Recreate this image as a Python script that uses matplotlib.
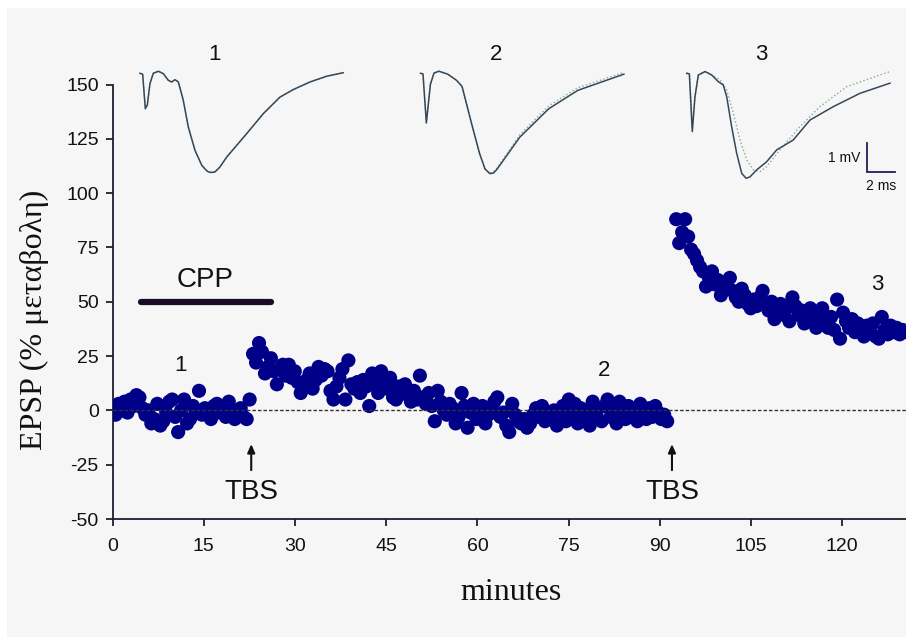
import numpy as np
import matplotlib
matplotlib.use("Agg")
import matplotlib.pyplot as plt
from matplotlib.patches import Rectangle

plt.rcParams['font.family'] = ['Liberation Sans', 'DejaVu Sans']
plt.rcParams['axes.unicode_minus'] = False

# ---------------- data ----------------
step_min = 0.49
seg1_start = 0.0
seg1_vals = [1, -2, 3, 0, 4, -1, 5, 2, 7, 6, 1, -2, 0, -6, -4, 3, -7, -5, -1, 4,
             5, -3, -10, 0, 5, -6, -4, 2, 0, 9, -2, 1, 0, -4, 2, 3, -1, 1, -3, 4,
             0, -4, -2, 1, -3, -4, 5]
seg2_start = 23.1
seg2_vals = [26, 22, 31, 27, 17, 20, 24, 18, 12, 19, 21, 16, 21, 15, 18, 13, 8, 11, 14, 17,
             10, 14, 20, 16, 19, 18, 9, 5, 11, 15, 19, 5, 23, 12, 10, 13, 8, 14, 11, 2,
             17, 12, 8, 18, 14, 10, 15, 6, 5, 11, 9, 12, 7, 4, 9, 5, 16, 6, 3, 8,
             2, -5, 9, 4, 0, -2, 3, 1, -6, -3, 8, 2, -8, -1, 3, -4, 0, 2, -6, -2,
             1, 4, 6, -3, -1, -7, -10, 3, -2, -5, -6, -4, -8, -6, -2, 1, -3, 2, -5, -1,
             -4, 0, -7, -3, 2, -5, 5, -2, 3, -6, 1, -4, 0, -7, 4, -2, 1, -5, 2, 5,
             -3, 0, -6, 4, -1, -4, 2, -3, 0, -5, 3, -2, -4, 1, -3, 2, -1, -4, -2, -5]
seg3_start = 92.7
seg3_vals = [88, 77, 82, 88, 80, 74, 72, 69, 66, 64, 57, 61, 64, 58, 60, 53, 56, 58, 61, 55,
             52, 50, 56, 53, 49, 47, 51, 48, 52, 55, 49, 46, 50, 42, 45, 49, 44, 47, 41, 52,
             48, 44, 46, 40, 43, 47, 42, 38, 45, 47, 41, 38, 43, 37, 51, 33, 45, 41, 38, 42,
             36, 40, 37, 34, 39, 36, 40, 34, 33, 43, 37, 35, 39, 36, 38, 35, 37, 36]

xticks = [0, 15, 30, 45, 60, 75, 90, 105, 120]
yticks = [-50, -25, 0, 25, 50, 75, 100, 125, 150]

cpp_start, cpp_end, cpp_level = 4.6, 26.0, 50
tbs_times = [22.8, 92.0]

# EPSP traces (ms, mV)
trace1_t = [0, 0.19, 0.38, 0.52, 0.71, 0.95, 1.31, 1.66, 2.02, 2.26, 2.5, 2.74, 3.09, 3.45,
            3.93, 4.41, 4.7, 4.88, 5.1, 5.36, 5.71, 6.19, 7.62, 8.81, 10.0, 10.95, 12.14, 13.34, 14.52]
trace1_v = [0, -0.03, -1.22, -1.1, -0.36, 0, 0.07, -0.01, -0.24, -0.3, -0.22, -0.3, -0.93, -1.85,
            -2.66, -3.17, -3.33, -3.4, -3.42, -3.4, -3.23, -2.89, -2.08, -1.39, -0.82, -0.56, -0.3, -0.1, 0.02]
trace2_t = [0, 0.17, 0.41, 0.7, 0.96, 1.31, 1.94, 2.56, 2.96, 3.59, 4.21, 4.6, 4.95, 5.2, 5.44, 7.09,
            9.16, 11.22, 14.52]
trace2_v = [0, -0.02, -1.71, -0.38, 0.01, 0.07, -0.03, -0.24, -0.45, -1.64, -2.76, -3.3, -3.46, -3.44,
            -3.32, -2.2, -1.22, -0.59, -0.03]
trace2b_v = [0, -0.02, -1.71, -0.38, 0.01, 0.07, -0.03, -0.24, -0.45, -1.64, -2.76, -3.3, -3.44, -3.4,
             -3.28, -2.12, -1.12, -0.5, 0.03]
trace3_t = [0, 0.19, 0.4, 0.59, 0.83, 1.31, 1.79, 2.26, 2.61, 2.86, 3.21, 3.57, 3.93, 4.24,
            4.52, 5.0, 5.71, 6.43, 7.61, 8.81, 10.47, 12.38, 14.52]
trace3_v = [0, -0.02, -2.01, -0.81, -0.06, 0.06, -0.06, -0.29, -0.4, -0.81, -1.84, -2.76, -3.45,
            -3.62, -3.57, -3.33, -3.05, -2.64, -2.3, -1.61, -1.15, -0.69, -0.34]
trace3b_t = [0, 0.19, 0.4, 0.59, 0.83, 1.31, 1.79, 2.38, 2.86, 3.33, 3.81, 4.29, 4.76, 5.24,
             5.71, 6.66, 8.09, 9.52, 11.43, 14.52]
trace3b_v = [0, -0.02, -1.9, -0.8, -0.06, 0.06, -0.06, -0.23, -0.58, -1.38, -2.3, -2.99, -3.33,
             -3.39, -3.22, -2.64, -1.84, -1.15, -0.46, 0.06]

# ---------------- figure ----------------
W, H = 906, 637
fig = plt.figure(figsize=(W / 100, H / 100), dpi=100, facecolor='white')
fig.patches.append(Rectangle((7 / W, 0), 1, 1 - 8 / H, transform=fig.transFigure,
                             facecolor='#f6f6f6', edgecolor='none', zorder=-10))

axc = '#1e1e30'
ax = fig.add_axes([112.6 / W, (H - 519) / H, (W - 112.6) / W, 434.5 / H])
ax.patch.set_alpha(0)
ax.set_xlim(0, (W - 112.6) / 6.08)
ax.set_ylim(-50, 150)
for s in ['top', 'right']:
    ax.spines[s].set_visible(False)
for s in ['left', 'bottom']:
    ax.spines[s].set_color(axc)
    ax.spines[s].set_linewidth(1.3)
ax.set_xticks(xticks)
ax.set_yticks(yticks)
ax.tick_params(axis='both', colors=axc, labelcolor='#111111', labelsize=14,
               length=5, width=1.3, direction='out')
ax.tick_params(axis='x', pad=9)
ax.tick_params(axis='y', pad=5)

dot_color = '#000088'
for start, vals in [(seg1_start, seg1_vals), (seg2_start, seg2_vals), (seg3_start, seg3_vals)]:
    t = start + step_min * np.arange(len(vals))
    ax.scatter(t, vals, s=104, color=dot_color, edgecolors='none', zorder=3)

ax.axhline(0, color='#333333', lw=1.0, ls=(0, (2.5, 1.5)), zorder=4)

ax.plot([cpp_start, cpp_end], [cpp_level, cpp_level], color='#1a0a25', lw=4.5,
        solid_capstyle='round', zorder=3)
ax.text(15.2, 59.8, 'CPP', fontsize=20, ha='center', va='center', color='#111111')
ax.text(11.2, 20.5, '1', fontsize=16, ha='center', va='center', color='#111111')
ax.text(80.8, 18.3, '2', fontsize=16, ha='center', va='center', color='#111111')
ax.text(125.7, 58, '3', fontsize=16, ha='center', va='center', color='#111111')

for tt in tbs_times:
    ax.annotate('', xy=(tt, -15.5), xytext=(tt, -27.5),
                arrowprops=dict(arrowstyle='-|>,head_length=0.5,head_width=0.22',
                                color='#111111', lw=1.5, shrinkA=0, shrinkB=0))
    ax.text(tt, -37.4, 'TBS', fontsize=20, ha='center', va='center', color='#111111')

fig.text(34.7 / W, 1 - 320 / H, 'EPSP (% μεταβολη)', rotation=90, ha='center', va='center',
         fontsize=23, family=['Liberation Serif', 'DejaVu Serif'], color='#111111')
fig.text(511 / W, 1 - 593 / H, 'minutes', ha='center', va='center',
         fontsize=23, family=['Liberation Serif', 'DejaVu Serif'], color='#111111')

# ---------------- trace overlay ----------------
px_ms, px_mV = 14.0, 29.0
top_px, bot_px = 30, 200
tax = fig.add_axes([112.6 / W, (H - bot_px) / H, (W - 112.6) / W, (bot_px - top_px) / H])
tax.axis('off')
tax.patch.set_alpha(0)
tax.set_xlim(0, (W - 112.6) / px_ms)
ytop = (73.3 - top_px) / px_mV
tax.set_ylim(ytop - (bot_px - top_px) / px_mV, ytop)

off1 = (140 - 112.6) / px_ms
off2 = (420.6 - 112.6) / px_ms
off3 = (686.7 - 112.6) / px_ms
solid_c = '#34485a'
dot_c = '#88a890'
tax.plot(np.array(trace1_t) + off1, trace1_v, color=dot_c, lw=1.0, ls=':')
tax.plot(np.array(trace1_t) + off1, trace1_v, color=solid_c, lw=1.1)
tax.plot(np.array(trace2_t) + off2, trace2b_v, color=dot_c, lw=1.0, ls=':')
tax.plot(np.array(trace2_t) + off2, trace2_v, color=solid_c, lw=1.1)
tax.plot(np.array(trace3b_t) + off3, trace3b_v, color=dot_c, lw=1.0, ls=':')
tax.plot(np.array(trace3_t) + off3, trace3_v, color=solid_c, lw=1.1)

for num, xpx in [('1', 215), ('2', 495.7), ('3', 761.4)]:
    tax.text((xpx - 112.6) / px_ms, -(54.8 - 73.3) / px_mV, num, fontsize=16,
             ha='center', va='center', color='#111111')

sb_x = (867 - 112.6) / px_ms
sb_y = -(172 - 73.3) / px_mV
tax.plot([sb_x, sb_x, sb_x + 2], [sb_y + 1, sb_y, sb_y], color='#2a1a5a', lw=1.3,
         solid_joinstyle='miter')
tax.text(sb_x - 0.5, sb_y + 0.5, '1 mV', fontsize=10, ha='right', va='center', color='#111111')
tax.text(sb_x + 1.0, -(186 - 73.3) / px_mV, '2 ms', fontsize=10, ha='center', va='center',
         color='#111111')

fig.savefig('out.png', dpi=100, facecolor=fig.get_facecolor())
